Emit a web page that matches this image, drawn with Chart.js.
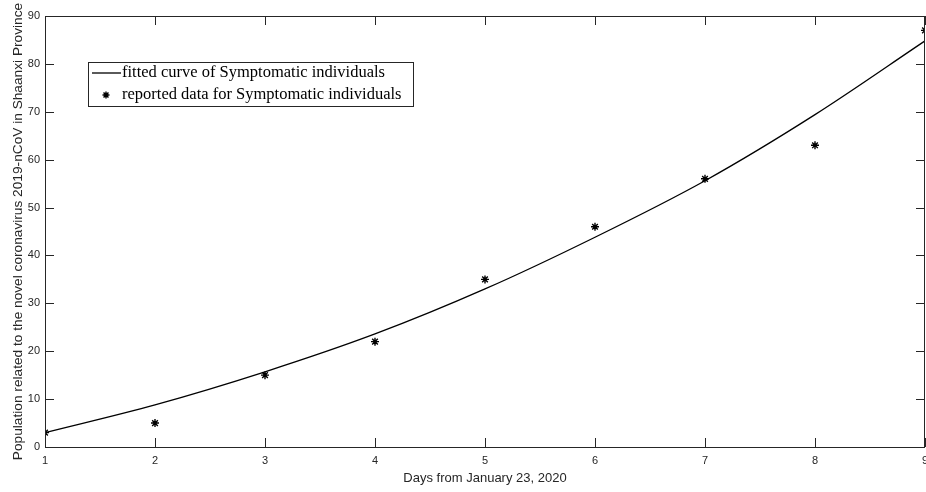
<!DOCTYPE html>
<html>
<head>
<meta charset="utf-8">
<script src="https://cdn.jsdelivr.net/npm/chart.js@4/dist/chart.umd.min.js"></script>
<style>
  html, body { margin: 0; padding: 0; background: #fff; }
  #wrap { width: 926px; height: 492px; }
</style>
</head>
<body>
<div id="wrap"><canvas id="chart" width="926" height="492"></canvas></div>
<script>
var days = [1, 2, 3, 4, 5, 6, 7, 8, 9];
var reported = [3, 5, 15, 22, 35, 46, 56, 63, 87];
var fitted = [3, 8.8, 15.7, 23.6, 33.0, 43.8, 55.6, 69.4, 84.8];
var xTicks = [1, 2, 3, 4, 5, 6, 7, 8, 9];
var yTicks = [0, 10, 20, 30, 40, 50, 60, 70, 80, 90];

var fitLabel = 'fitted curve of Symptomatic individuals';
var dataLabel = 'reported data for Symptomatic individuals';

var axisColor = '#262626';

function toXY(xs, ys) {
  return xs.map(function(x, i) { return {x: x, y: ys[i]}; });
}

// box + inward ticks, like the matlab figure
var boxPlugin = {
  id: 'box',
  afterDatasetsDraw: function(chart) {
    var ctx = chart.ctx, a = chart.chartArea;
    var xs = chart.scales.x, ys = chart.scales.y;
    var len = 9;
    ctx.save();
    ctx.strokeStyle = axisColor;
    ctx.lineWidth = 1;
    ctx.beginPath();
    xTicks.forEach(function(v) {
      var px = Math.round(xs.getPixelForValue(v)) + 0.5;
      ctx.moveTo(px, a.bottom); ctx.lineTo(px, a.bottom - len);
      ctx.moveTo(px, a.top); ctx.lineTo(px, a.top + len);
    });
    yTicks.forEach(function(v) {
      var py = Math.round(ys.getPixelForValue(v)) + 0.5;
      ctx.moveTo(a.left, py); ctx.lineTo(a.left + len, py);
      ctx.moveTo(a.right, py); ctx.lineTo(a.right - len, py);
    });
    ctx.stroke();
    ctx.strokeRect(Math.round(a.left) + 0.5, Math.round(a.top) + 0.5,
                   Math.round(a.right - a.left) - 1, Math.round(a.bottom - a.top));
    ctx.restore();
  }
};

// legend box inside the axes (top left)
var legendPlugin = {
  id: 'boxLegend',
  afterDraw: function(chart) {
    var ctx = chart.ctx;
    var x0 = 88, y0 = 62, w = 325, h = 44;
    ctx.save();
    ctx.fillStyle = '#fff';
    ctx.fillRect(x0, y0, w, h);
    ctx.strokeStyle = axisColor;
    ctx.lineWidth = 1;
    ctx.strokeRect(x0 + 0.5, y0 + 0.5, w, h);

    ctx.strokeStyle = '#000';
    ctx.lineWidth = 1.3;
    ctx.beginPath();
    ctx.moveTo(92, 73); ctx.lineTo(121, 73);
    ctx.stroke();

    ctx.lineWidth = 1.4;
    var cx = 106, cy = 95, r = 3.5;
    ctx.beginPath();
    for (var k = 0; k < 4; k++) {
      var ang = k * Math.PI / 4;
      ctx.moveTo(cx - r * Math.cos(ang), cy - r * Math.sin(ang));
      ctx.lineTo(cx + r * Math.cos(ang), cy + r * Math.sin(ang));
    }
    ctx.stroke();

    ctx.fillStyle = '#000';
    ctx.font = '16.5px "Liberation Serif", "Times New Roman", serif';
    ctx.textBaseline = 'middle';
    ctx.fillText(chart.data.datasets[0].label, 122, 73);
    ctx.fillText(chart.data.datasets[1].label, 122, 95);
    ctx.restore();
  }
};

var ctx = document.getElementById('chart').getContext('2d');
var chart = new Chart(ctx, {
  type: 'scatter',
  data: {
    datasets: [
      {
        type: 'line',
        label: fitLabel,
        data: toXY(days, fitted),
        borderColor: '#000',
        borderWidth: 1.3,
        pointRadius: 0,
        fill: false,
        cubicInterpolationMode: 'monotone'
      },
      {
        label: dataLabel,
        data: toXY(days, reported),
        pointStyle: 'star',
        pointRadius: 4,
        borderColor: '#000',
        backgroundColor: '#000',
        borderWidth: 1.4,
        showLine: false
      }
    ]
  },
  options: {
    responsive: false,
    animation: false,
    layout: { autoPadding: false, padding: { left: 0, right: 1, top: 16, bottom: 0 } },
    plugins: {
      legend: { display: false },
      tooltip: { enabled: false }
    },
    scales: {
      x: {
        type: 'linear',
        min: 1,
        max: 9,
        afterBuildTicks: function(scale) {
          scale.ticks = xTicks.map(function(v) { return {value: v}; });
        },
        afterFit: function(scale) {
          scale.height = 45;
          scale.paddingLeft = 0;
          scale.paddingRight = 0;
        },
        grid: { display: false, drawTicks: false },
        border: { display: false },
        ticks: {
          padding: 7,
          maxRotation: 0,
          color: axisColor,
          font: { family: '"Liberation Sans", Arial, sans-serif', size: 11 }
        },
        title: {
          display: true,
          text: 'Days from January 23, 2020',
          color: axisColor,
          padding: { top: 0, bottom: 6 },
          font: { family: '"Liberation Sans", Arial, sans-serif', size: 13 }
        }
      },
      y: {
        min: 0,
        max: 90,
        afterBuildTicks: function(scale) {
          scale.ticks = yTicks.map(function(v) { return {value: v}; });
        },
        afterFit: function(scale) {
          scale.width = 45;
          scale.paddingTop = 0;
          scale.paddingBottom = 0;
        },
        grid: { display: false, drawTicks: false },
        border: { display: false },
        ticks: {
          padding: 5,
          color: axisColor,
          font: { family: '"Liberation Sans", Arial, sans-serif', size: 11 }
        },
        title: {
          display: true,
          text: 'Population related to the novel coronavirus 2019-nCoV in Shaanxi Province',
          color: axisColor,
          padding: { top: 10, bottom: 0 },
          font: { family: '"Liberation Sans", Arial, sans-serif', size: 13.7 }
        }
      }
    }
  },
  plugins: [boxPlugin, legendPlugin]
});
</script>
</body>
</html>
